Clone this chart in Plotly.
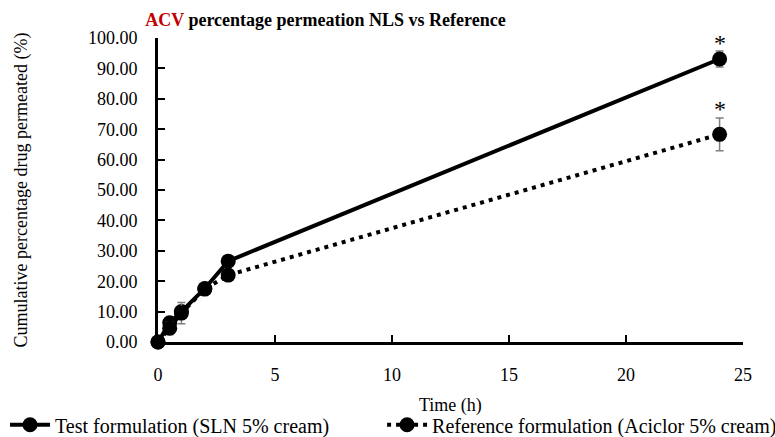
import plotly.graph_objects as go

time_h = [0, 0.5, 1, 2, 3, 24]
test_vals = [0.0, 6.3, 10.0, 17.6, 26.6, 93.1]
test_err = [0.0, 1.2, 1.0, 1.0, 1.0, 2.6]
ref_vals = [0.0, 4.5, 9.5, 17.4, 22.0, 68.3]
ref_err = [0.0, 2.0, 3.5, 1.0, 1.0, 5.4]
x_ticks = [0, 5, 10, 15, 20, 25]
y_ticks = [0, 10, 20, 30, 40, 50, 60, 70, 80, 90, 100]
star_y = [98.5, 76.5]

FONT = "Liberation Serif"
err_color = "#7f7f7f"

fig = go.Figure()
fig.add_trace(go.Scatter(
    x=time_h, y=test_vals, name="Test formulation (SLN 5% cream)",
    mode="lines+markers",
    line=dict(color="black", width=4),
    marker=dict(color="black", size=15),
    error_y=dict(type="data", array=test_err, visible=True, color=err_color, thickness=1.5, width=4),
    cliponaxis=False, legend="legend",
))
fig.add_trace(go.Scatter(
    x=time_h, y=ref_vals, name="Reference formulation (Aciclor 5% cream)",
    mode="lines+markers",
    line=dict(color="black", width=4, dash="4px,5px"),
    marker=dict(color="black", size=15),
    error_y=dict(type="data", array=ref_err, visible=True, color=err_color, thickness=1.5, width=4),
    cliponaxis=False, legend="legend2",
))

for sy in star_y:
    fig.add_annotation(x=24, y=sy, text="*", showarrow=False,
                       font=dict(family=FONT, size=24, color="black"))

# x-axis title placed as annotation so it sits where the reference shows it
fig.add_annotation(x=0.5, y=-0.2105, xref="paper", yref="paper", text="Time (h)",
                   showarrow=False, xanchor="center", yanchor="middle",
                   font=dict(family=FONT, size=18, color="black"))

leg_common = dict(orientation="h", xref="container", yref="container",
                  xanchor="left", y=0.028, yanchor="middle",
                  font=dict(family=FONT, size=20, color="black"), itemwidth=40,
                  bgcolor="rgba(0,0,0,0)")

fig.update_layout(
    width=775, height=437,
    paper_bgcolor="white", plot_bgcolor="white",
    margin=dict(l=158, r=32, t=38, b=95, autoexpand=False),
    font=dict(family=FONT, size=18, color="black"),
    title=dict(
        text="<b><span style='color:#C00000'>ACV</span> percentage permeation NLS vs Reference</b>",
        x=0.42, xanchor="center", y=0.955, yanchor="middle",
        font=dict(family=FONT, size=18, color="black"),
    ),
    showlegend=True,
    legend=dict(x=0.0065, **leg_common),
    legend2=dict(x=0.493, **leg_common),
    xaxis=dict(
        range=[0, 25], tickvals=x_ticks, ticktext=[str(v) for v in x_ticks],
        showline=True, linecolor="black", linewidth=3, mirror=False,
        ticks="inside", ticklen=7, tickwidth=2, tickcolor="black",
        showgrid=False, zeroline=False, ticklabelstandoff=14, automargin=False,
    ),
    yaxis=dict(
        range=[0, 100], tickvals=y_ticks, ticktext=[f"{v:.2f}" for v in y_ticks],
        showline=True, linecolor="black", linewidth=3,
        ticks="inside", ticklen=7, tickwidth=2, tickcolor="black",
        showgrid=False, zeroline=False, ticklabelstandoff=14, automargin=False,
        title=dict(text="Cumulative percentage drug permeated (%)", font=dict(family=FONT, size=18), standoff=56),
    ),
)

fig.write_html("out.html", config={"displayModeBar": False},
               post_script="document.body.style.margin='0';")
